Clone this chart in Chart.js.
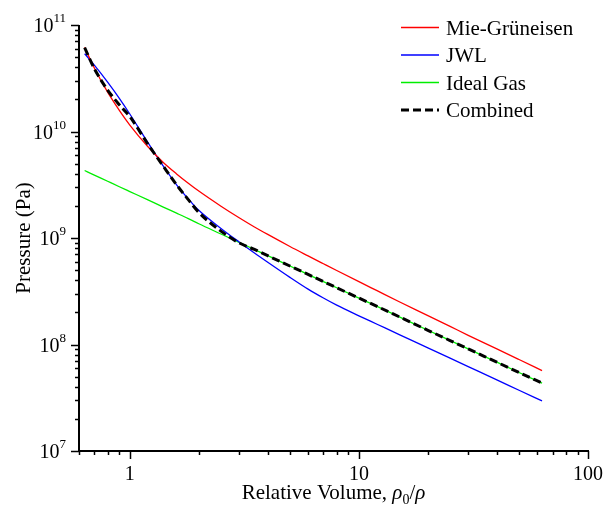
<!DOCTYPE html>
<html>
<head>
<meta charset="utf-8">
<script src="https://cdn.jsdelivr.net/npm/chart.js@4"></script>
<style>
  body { margin: 0; background: #fff; }
  canvas { display: block; }
</style>
</head>
<body>
<canvas id="eosChart" width="604" height="506"></canvas>
<script>
// relative volume rho0/rho
var volume = [0.635, 0.7, 0.8, 0.9, 1, 1.2, 1.4, 1.6, 1.8, 2, 2.5, 3, 3.5, 4, 5, 6, 7, 8, 10, 12, 15, 20, 25, 30, 40, 50, 63];

// pressure (Pa) for each EOS at those volumes
var mieGruneisen = [6.17e10, 3.94e10, 2.34e10, 1.58e10, 1.15e10, 7.19e9, 5.12e9, 4.00e9, 3.27e9, 2.76e9, 1.99e9, 1.55e9, 1.27e9, 1.08e9, 8.32e8, 6.79e8, 5.73e8, 4.95e8, 3.89e8, 3.20e8, 2.52e8, 1.87e8, 1.48e8, 1.22e8, 9.10e7, 7.23e7, 5.69e7];
var jwl = [5.37e10, 4.20e10, 2.91e10, 2.05e10, 1.46e10, 7.85e9, 4.72e9, 3.16e9, 2.33e9, 1.82e9, 1.23e9, 9.18e8, 7.23e8, 5.92e8, 4.27e8, 3.31e8, 2.73e8, 2.34e8, 1.86e8, 1.55e8, 1.24e8, 9.31e7, 7.45e7, 6.21e7, 4.66e7, 3.72e7, 2.95e7];
var idealGas = [4.30e9, 3.90e9, 3.41e9, 3.03e9, 2.73e9, 2.28e9, 1.95e9, 1.71e9, 1.52e9, 1.36e9, 1.09e9, 9.1e8, 7.8e8, 6.82e8, 5.46e8, 4.55e8, 3.90e8, 3.41e8, 2.73e8, 2.28e8, 1.82e8, 1.36e8, 1.09e8, 9.1e7, 6.82e7, 5.46e7, 4.34e7];
var combined = [6.12e10, 3.89e10, 2.45e10, 1.78e10, 1.38e10, 7.59e9, 4.72e9, 3.16e9, 2.29e9, 1.74e9, 1.16e9, 9.0e8, 7.8e8, 6.82e8, 5.46e8, 4.55e8, 3.90e8, 3.41e8, 2.73e8, 2.28e8, 1.82e8, 1.36e8, 1.09e8, 9.1e7, 6.82e7, 5.46e7, 4.34e7];

var xTicks = [1, 10, 100];
var yTicks = [1e7, 1e8, 1e9, 1e10, 1e11];

var serif = '"Liberation Serif", "Times New Roman", serif';

function points(values) {
  return volume.map(function (v, i) { return { x: v, y: values[i] }; });
}

function series(label, values, color, width, dash, order) {
  return {
    label: label,
    data: points(values),
    borderColor: color,
    borderWidth: width,
    borderDash: dash || [],
    pointRadius: 0,
    fill: false,
    order: order || 0,
    cubicInterpolationMode: 'monotone'
  };
}

// draws axis lines, log ticks, labels, titles and the legend box
var axesPlugin = {
  id: 'axesPlugin',
  afterDraw: function (chart) {
    var ctx = chart.ctx;
    var area = chart.chartArea;
    var xs = chart.scales.x, ys = chart.scales.y;
    ctx.save();
    ctx.strokeStyle = '#000';
    ctx.fillStyle = '#000';
    ctx.lineWidth = 2;

    ctx.beginPath();
    ctx.moveTo(area.left, area.top);
    ctx.lineTo(area.left, area.bottom);
    ctx.lineTo(area.right + 1, area.bottom);
    ctx.stroke();

    // x ticks
    ctx.lineWidth = 1.5;
    [0.1, 1, 10].forEach(function (d) {
      for (var k = 1; k <= 9; k++) {
        var v = k * d;
        if (v < xs.min - 1e-9 || v > xs.max + 1e-9) continue;
        var px = Math.round(xs.getPixelForValue(v)) + 0.5;
        var len = (k === 1) ? 8 : 4;
        ctx.beginPath();
        ctx.moveTo(px, area.bottom);
        ctx.lineTo(px, area.bottom + len);
        ctx.stroke();
      }
    });
    var lastX = xs.getPixelForValue(100);
    ctx.beginPath();
    ctx.moveTo(Math.round(lastX) + 0.5, area.bottom);
    ctx.lineTo(Math.round(lastX) + 0.5, area.bottom + 8);
    ctx.stroke();

    // y ticks
    [1e7, 1e8, 1e9, 1e10].forEach(function (d) {
      for (var k = 1; k <= 9; k++) {
        var v = k * d;
        var py = Math.round(ys.getPixelForValue(v)) + 0.5;
        var len = (k === 1) ? 8 : 4;
        ctx.beginPath();
        ctx.moveTo(area.left, py);
        ctx.lineTo(area.left - len, py);
        ctx.stroke();
      }
    });
    var topY = Math.round(ys.getPixelForValue(1e11)) + 0.5;
    ctx.beginPath();
    ctx.moveTo(area.left, topY);
    ctx.lineTo(area.left - 8, topY);
    ctx.stroke();

    // x tick labels
    ctx.font = '20px ' + serif;
    ctx.textAlign = 'center';
    ctx.textBaseline = 'alphabetic';
    xTicks.forEach(function (v) {
      ctx.fillText(String(v), xs.getPixelForValue(v), area.bottom + 29);
    });

    // y tick labels as powers of ten
    yTicks.forEach(function (v) {
      var exp = String(Math.round(Math.log10(v)));
      var py = ys.getPixelForValue(v);
      ctx.font = '20px ' + serif;
      var bw = ctx.measureText('10').width;
      ctx.font = '13px ' + serif;
      var ew = ctx.measureText(exp).width;
      var x0 = 66 - bw - ew;
      ctx.textAlign = 'left';
      ctx.font = '20px ' + serif;
      ctx.fillText('10', x0, py + 7);
      ctx.font = '13px ' + serif;
      ctx.fillText(exp, x0 + bw, py - 3);
    });

    // y title
    ctx.save();
    ctx.translate(24, (area.top + area.bottom) / 2);
    ctx.rotate(-Math.PI / 2);
    ctx.font = '21px ' + serif;
    ctx.textAlign = 'center';
    ctx.textBaseline = 'middle';
    ctx.fillText('Pressure (Pa)', 0, 0);
    ctx.restore();

    // x title with rho0/rho
    var parts = [
      { t: 'Relative Volume, ', f: '21px ' + serif, dy: 0 },
      { t: '\u03c1', f: 'italic 21px ' + serif, dy: 0 },
      { t: '0', f: '14px ' + serif, dy: 5 },
      { t: '/', f: '21px ' + serif, dy: 0 },
      { t: '\u03c1', f: 'italic 21px ' + serif, dy: 0 }
    ];
    var total = 0;
    parts.forEach(function (p) { ctx.font = p.f; p.w = ctx.measureText(p.t).width; total += p.w; });
    var cx = (area.left + area.right) / 2 - total / 2;
    ctx.textAlign = 'left';
    ctx.textBaseline = 'alphabetic';
    parts.forEach(function (p) {
      ctx.font = p.f;
      ctx.fillText(p.t, cx, 499 + p.dy);
      cx += p.w;
    });

    // legend
    chart.data.datasets.forEach(function (ds, i) {
      var ly = 27.5 + i * 27.5;
      ctx.strokeStyle = ds.borderColor;
      ctx.lineWidth = ds.borderWidth;
      ctx.setLineDash(ds.borderDash);
      ctx.beginPath();
      ctx.moveTo(401, ly);
      ctx.lineTo(439, ly);
      ctx.stroke();
      ctx.setLineDash([]);
      ctx.fillStyle = '#000';
      ctx.font = '21px ' + serif;
      ctx.textAlign = 'left';
      ctx.fillText(ds.label, 446, ly + 7);
    });

    ctx.restore();
  }
};

var ctx = document.getElementById('eosChart').getContext('2d');
var chart = new Chart(ctx, {
  type: 'line',
  data: {
    datasets: [
      series('Mie-Grüneisen', mieGruneisen, '#ff0000', 1.3),
      series('JWL', jwl, '#0000ff', 1.3),
      series('Ideal Gas', idealGas, '#00ee00', 1.3),
      // lowest order is painted last, so the dashed curve sits on top
      series('Combined', combined, '#000000', 3, [8, 4], -1)
    ]
  },
  options: {
    responsive: false,
    animation: false,
    devicePixelRatio: 1,
    layout: { padding: { left: 79, top: 25, right: 16, bottom: 55 } },
    plugins: { legend: { display: false }, tooltip: { enabled: false } },
    scales: {
      x: { type: 'logarithmic', min: 0.6, max: 100, display: false },
      y: { type: 'logarithmic', min: 1e7, max: 1e11, display: false }
    }
  },
  plugins: [axesPlugin]
});
</script>
</body>
</html>
